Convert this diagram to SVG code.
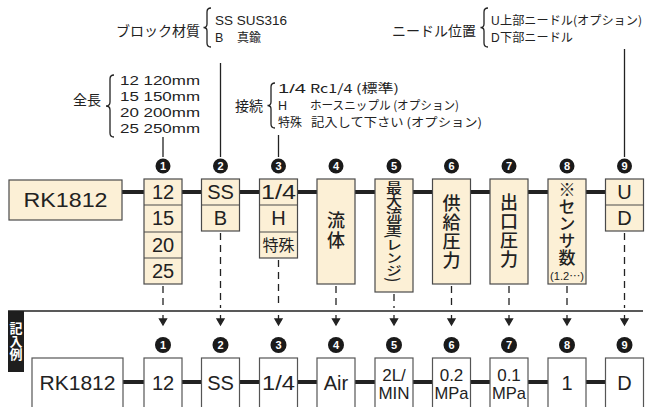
<svg xmlns="http://www.w3.org/2000/svg" width="652" height="407" viewBox="0 0 652 407">
<style>
text{font-family:"Liberation Sans","Noto Sans CJK JP",sans-serif;fill:#222;}
.jp{font-family:"Noto Sans CJK JP","Liberation Sans",sans-serif;}
.lbl{font-size:14px;}
.item{font-size:12px;}
.box{fill:#fcf0d6;stroke:#4a4a4a;stroke-width:1.2;}
.wbox{fill:#fff;stroke:#555;stroke-width:1.2;}
.cell{stroke:#4a4a4a;stroke-width:1.2;}
.big{font-size:20px;text-anchor:middle;}
.mid{font-size:17px;text-anchor:middle;}
.vt{writing-mode:vertical-rl;font-size:18px;font-family:"Noto Sans CJK JP",sans-serif;font-weight:500;}
.brace{fill:none;stroke:#222;stroke-width:1.3;}
.ln{stroke:#222;stroke-width:1.3;fill:none;}
.dash{stroke:#222;stroke-width:1.3;stroke-dasharray:7 5;fill:none;}
.bus{stroke:#222;stroke-width:4;fill:none;}
.num{fill:#1a1a1a;}
.numt{fill:#fff;font-size:11px;font-weight:bold;text-anchor:middle;}
</style>
<defs>
<path id="ah" d="M-3.5,0 L3.5,0 L0,6 Z" fill="#222"/>
</defs>

<g id="connectors">
<line class="bus" x1="122" y1="192" x2="606" y2="192"/>
<line class="bus" x1="123" y1="382" x2="606" y2="382"/>
<line class="ln" x1="220.5" y1="63" x2="220.5" y2="157"/>
<line class="ln" x1="163" y1="137" x2="163" y2="157"/>
<line class="ln" x1="278.5" y1="135" x2="278.5" y2="157"/>
<line class="ln" x1="624.5" y1="49" x2="624.5" y2="157"/>
<line class="dash" x1="163" y1="286" x2="163" y2="308"/>
<line class="dash" x1="220.5" y1="233" x2="220.5" y2="308"/>
<line class="dash" x1="278.5" y1="260" x2="278.5" y2="308"/>
<line class="dash" x1="336" y1="286" x2="336" y2="308"/>
<line class="dash" x1="394" y1="294" x2="394" y2="308"/>
<line class="dash" x1="451.5" y1="286" x2="451.5" y2="308"/>
<line class="dash" x1="509" y1="286" x2="509" y2="308"/>
<line class="dash" x1="567" y1="286" x2="567" y2="308"/>
<line class="dash" x1="624.5" y1="233" x2="624.5" y2="308"/>
<line class="ln" x1="8" y1="311" x2="643" y2="311"/>
<g class="ln">
<line x1="163" y1="315" x2="163" y2="320"/><use href="#ah" x="163" y="319"/>
<line x1="220.5" y1="315" x2="220.5" y2="320"/><use href="#ah" x="220.5" y="319"/>
<line x1="278.5" y1="315" x2="278.5" y2="320"/><use href="#ah" x="278.5" y="319"/>
<line x1="336" y1="315" x2="336" y2="320"/><use href="#ah" x="336" y="319"/>
<line x1="394" y1="315" x2="394" y2="320"/><use href="#ah" x="394" y="319"/>
<line x1="451.5" y1="315" x2="451.5" y2="320"/><use href="#ah" x="451.5" y="319"/>
<line x1="509" y1="315" x2="509" y2="320"/><use href="#ah" x="509" y="319"/>
<line x1="567" y1="315" x2="567" y2="320"/><use href="#ah" x="567" y="319"/>
<line x1="624.5" y1="315" x2="624.5" y2="320"/><use href="#ah" x="624.5" y="319"/>
</g>
</g>

<g id="legend-material">
<text class="lbl jp" x="200" y="36" text-anchor="end">ブロック材質</text>
<path class="brace" d="M211,8 Q207,8 207,12 L207,24 Q207,27.5 203.5,27.5 Q207,27.5 207,31 L207,43 Q207,47 211,47"/>
<text x="215" y="25" font-size="12.5" textLength="72" lengthAdjust="spacingAndGlyphs">SS SUS316</text>
<text x="215" y="42" font-size="12.5">B</text>
<text x="237" y="42" font-size="12" class="jp">真鍮</text>
</g>

<g id="legend-length">
<text class="lbl jp" x="101" y="105" text-anchor="end">全長</text>
<path class="brace" d="M114,75 Q110,75 110,79 L110,102 Q110,106 106,106 Q110,106 110,110 L110,133 Q110,137 114,137"/>
<text x="120" y="85" font-size="13" textLength="80" lengthAdjust="spacingAndGlyphs">12 120mm</text>
<text x="120" y="101" font-size="13" textLength="80" lengthAdjust="spacingAndGlyphs">15 150mm</text>
<text x="120" y="117" font-size="13" textLength="80" lengthAdjust="spacingAndGlyphs">20 200mm</text>
<text x="120" y="133" font-size="13" textLength="80" lengthAdjust="spacingAndGlyphs">25 250mm</text>
</g>

<g id="legend-connection">
<text class="lbl jp" x="263" y="111" text-anchor="end">接続</text>
<path class="brace" d="M275,83 Q271,83 271,87 L271,102 Q271,105.5 267.5,105.5 Q271,105.5 271,109 L271,124 Q271,128 275,128"/>
<text x="278" y="93" font-size="12.5" textLength="28" lengthAdjust="spacingAndGlyphs">1/4</text>
<text x="310" y="93" font-size="12" class="jp" textLength="89" lengthAdjust="spacingAndGlyphs">Rc1/4 (標準)</text>
<text x="278" y="110" font-size="12.5">H</text>
<text x="310" y="110" font-size="12" class="jp" textLength="149" lengthAdjust="spacingAndGlyphs">ホースニップル (オプション)</text>
<text x="278" y="127" font-size="12" class="jp">特殊</text>
<text x="311" y="127" font-size="12" class="jp" textLength="171" lengthAdjust="spacingAndGlyphs">記入して下さい (オプション)</text>
</g>

<g id="legend-needle">
<text class="lbl jp" x="476" y="36" text-anchor="end">ニードル位置</text>
<path class="brace" d="M488,8 Q484,8 484,12 L484,24 Q484,27.5 480.5,27.5 Q484,27.5 484,31 L484,43 Q484,47 488,47"/>
<text x="491" y="25" class="item">U</text>
<text x="500" y="25" class="item jp" textLength="142" lengthAdjust="spacingAndGlyphs">上部ニードル(オプション)</text>
<text x="491" y="42" class="item">D</text>
<text x="500" y="42" class="item jp" textLength="73" lengthAdjust="spacingAndGlyphs">下部ニードル</text>
</g>

<g id="n-model">
<rect class="box" x="9" y="180" width="113" height="40"/>
<text x="65.5" y="207" font-size="20" text-anchor="middle" textLength="84" lengthAdjust="spacingAndGlyphs">RK1812</text>
</g>

<g id="n1">
<circle class="num" cx="163" cy="166" r="7.5"/><text class="numt" x="163" y="170">1</text>
<rect class="box" x="144" y="179" width="38" height="105"/>
<line class="cell" x1="144" y1="205" x2="182" y2="205"/>
<line class="cell" x1="144" y1="232" x2="182" y2="232"/>
<line class="cell" x1="144" y1="258" x2="182" y2="258"/>
<text class="big" x="163" y="199">12</text>
<text class="big" x="163" y="225">15</text>
<text class="big" x="163" y="252">20</text>
<text class="big" x="163" y="278">25</text>
</g>

<g id="n2">
<circle class="num" cx="220.5" cy="166" r="7.5"/><text class="numt" x="220.5" y="170">2</text>
<rect class="box" x="201.5" y="179" width="38" height="52"/>
<line class="cell" x1="201.5" y1="205" x2="239.5" y2="205"/>
<text class="big" x="220.5" y="199">SS</text>
<text class="big" x="220.5" y="225">B</text>
</g>

<g id="n3">
<circle class="num" cx="278.5" cy="166" r="7.5"/><text class="numt" x="278.5" y="170">3</text>
<rect class="box" x="259.5" y="179" width="38" height="79"/>
<line class="cell" x1="259.5" y1="205" x2="297.5" y2="205"/>
<line class="cell" x1="259.5" y1="232" x2="297.5" y2="232"/>
<text class="big" x="278.5" y="199" textLength="35" lengthAdjust="spacingAndGlyphs">1/4</text>
<text class="big" x="278.5" y="225">H</text>
<text class="jp" x="278.5" y="251" font-size="16" text-anchor="middle">特殊</text>
</g>

<g id="n4">
<circle class="num" cx="336" cy="166" r="7.5"/><text class="numt" x="336" y="170">4</text>
<rect class="box" x="317" y="179" width="38" height="105"/>
<text class="vt" x="336" y="211" letter-spacing="2">流体</text>
</g>

<g id="n5">
<circle class="num" cx="394" cy="166" r="7.5"/><text class="numt" x="394" y="170">5</text>
<rect class="box" x="375" y="179" width="38" height="113"/>
<g transform="translate(394,181) scale(1,0.82)">
<text class="vt" x="0" y="0" style="font-size:16px">最大流量(レンジ)</text>
</g>
</g>

<g id="n6">
<circle class="num" cx="451.5" cy="166" r="7.5"/><text class="numt" x="451.5" y="170">6</text>
<rect class="box" x="432.5" y="179" width="38" height="105"/>
<text class="vt" x="451.5" y="194" letter-spacing="1">供給圧力</text>
</g>

<g id="n7">
<circle class="num" cx="509" cy="166" r="7.5"/><text class="numt" x="509" y="170">7</text>
<rect class="box" x="490" y="179" width="38" height="105"/>
<text class="vt" x="509" y="193" letter-spacing="1">出口圧力</text>
</g>

<g id="n8">
<circle class="num" cx="567" cy="166" r="7.5"/><text class="numt" x="567" y="170">8</text>
<rect class="box" x="548" y="179" width="38" height="105"/>
<text class="vt" x="567" y="181" style="font-size:17px">※センサ数</text>
<text x="567" y="280" font-size="10" text-anchor="middle" textLength="34" lengthAdjust="spacingAndGlyphs">(1.2<tspan class="jp">…</tspan>)</text>
</g>

<g id="n9">
<circle class="num" cx="624.5" cy="166" r="7.5"/><text class="numt" x="624.5" y="170">9</text>
<rect class="box" x="605.5" y="179" width="38" height="52"/>
<line class="cell" x1="605.5" y1="205" x2="643.5" y2="205"/>
<text class="big" x="624.5" y="199">U</text>
<text class="big" x="624.5" y="225">D</text>
</g>

<g id="example-label">
<rect x="8" y="311" width="16" height="61" fill="#1e1e1e"/>
<text x="16" y="322" class="jp" style="writing-mode:vertical-rl;font-size:13px;font-weight:bold;fill:#fff">記入例</text>
</g>

<g id="e-model">
<rect class="wbox" x="32" y="358" width="91" height="60"/>
<text class="big" x="77.5" y="390" textLength="76" lengthAdjust="spacingAndGlyphs">RK1812</text>
</g>
<g id="e1">
<circle class="num" cx="163" cy="345" r="8"/><text class="numt" x="163" y="349">1</text>
<rect class="wbox" x="144" y="358" width="38" height="60"/>
<text class="big" x="163" y="390">12</text>
</g>
<g id="e2">
<circle class="num" cx="220.5" cy="345" r="8"/><text class="numt" x="220.5" y="349">2</text>
<rect class="wbox" x="201.5" y="358" width="38" height="60"/>
<text class="big" x="220.5" y="390">SS</text>
</g>
<g id="e3">
<circle class="num" cx="278.5" cy="345" r="8"/><text class="numt" x="278.5" y="349">3</text>
<rect class="wbox" x="259.5" y="358" width="38" height="60"/>
<text class="big" x="278.5" y="390" textLength="33" lengthAdjust="spacingAndGlyphs">1/4</text>
</g>
<g id="e4">
<circle class="num" cx="336" cy="345" r="8"/><text class="numt" x="336" y="349">4</text>
<rect class="wbox" x="317" y="358" width="38" height="60"/>
<text class="big" x="336" y="390">Air</text>
</g>
<g id="e5">
<circle class="num" cx="394" cy="345" r="8"/><text class="numt" x="394" y="349">5</text>
<rect class="wbox" x="375" y="358" width="38" height="60"/>
<text class="mid" x="394" y="381">2L/</text>
<text class="mid" x="394" y="399">MIN</text>
</g>
<g id="e6">
<circle class="num" cx="451.5" cy="345" r="8"/><text class="numt" x="451.5" y="349">6</text>
<rect class="wbox" x="432.5" y="358" width="38" height="60"/>
<text class="mid" x="451.5" y="381">0.2</text>
<text class="mid" x="451.5" y="399" textLength="34" lengthAdjust="spacingAndGlyphs">MPa</text>
</g>
<g id="e7">
<circle class="num" cx="509" cy="345" r="8"/><text class="numt" x="509" y="349">7</text>
<rect class="wbox" x="490" y="358" width="38" height="60"/>
<text class="mid" x="509" y="381">0.1</text>
<text class="mid" x="509" y="399" textLength="34" lengthAdjust="spacingAndGlyphs">MPa</text>
</g>
<g id="e8">
<circle class="num" cx="567" cy="345" r="8"/><text class="numt" x="567" y="349">8</text>
<rect class="wbox" x="548" y="358" width="38" height="60"/>
<text class="big" x="567" y="390">1</text>
</g>
<g id="e9">
<circle class="num" cx="624.5" cy="345" r="8"/><text class="numt" x="624.5" y="349">9</text>
<rect class="wbox" x="605.5" y="358" width="38" height="60"/>
<text class="big" x="624.5" y="390">D</text>
</g>
</svg>
